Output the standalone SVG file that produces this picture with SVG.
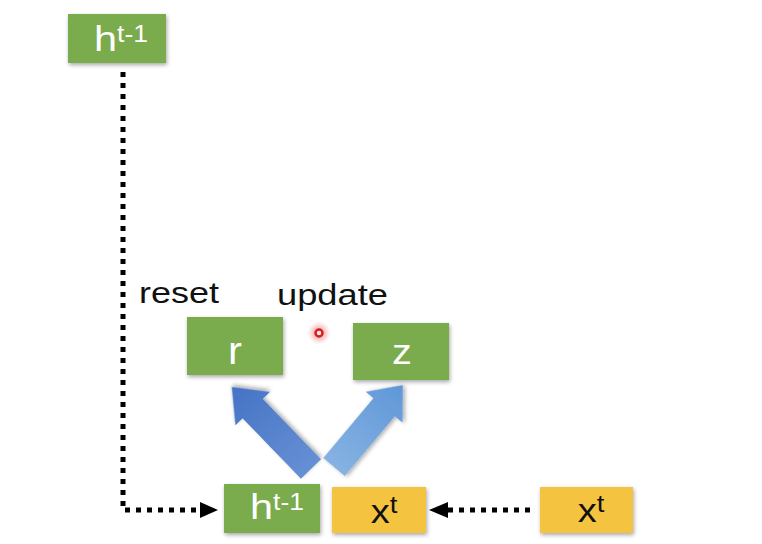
<svg xmlns="http://www.w3.org/2000/svg" width="762" height="544" viewBox="0 0 762 544">
<style>
.g{fill:#7aab4d}
.y{fill:#f4c440}
.wt{fill:#ffffff;font-family:"Liberation Sans",Arial,sans-serif}
.bt{fill:#111111;font-family:"Liberation Sans",Arial,sans-serif}
.dot{fill:none;stroke:#000;stroke-width:5;stroke-dasharray:5 6}
</style>
<defs>
<filter id="sh" x="-20%" y="-20%" width="140%" height="150%">
<feGaussianBlur in="SourceAlpha" stdDeviation="2"/>
<feOffset dx="1" dy="2" result="b"/>
<feComponentTransfer><feFuncA type="linear" slope="0.35"/></feComponentTransfer>
<feMerge><feMergeNode/><feMergeNode in="SourceGraphic"/></feMerge>
</filter>
<linearGradient id="gl" x1="0" y1="0" x2="1" y2="0">
<stop offset="0" stop-color="#6690d4"/><stop offset="1" stop-color="#4672c5"/>
</linearGradient>
<linearGradient id="gr" x1="0" y1="0" x2="1" y2="0">
<stop offset="0" stop-color="#86b2e2"/><stop offset="1" stop-color="#5f97d8"/>
</linearGradient>
<radialGradient id="glow">
<stop offset="0" stop-color="#f07070" stop-opacity="0.9"/><stop offset="0.6" stop-color="#f6a8a8" stop-opacity="0.5"/><stop offset="1" stop-color="#fbd0d0" stop-opacity="0"/>
</radialGradient>
</defs>
<rect width="762" height="544" fill="#ffffff"/>

<g id="connectors">
<polyline class="dot" points="123,72 123,510 200,510"/>
<polygon points="200,502 218,510 200,518" fill="#000"/>
<line class="dot" x1="530" y1="510" x2="448" y2="510"/>
<polygon points="448,502 429,510 448,518" fill="#000"/>
<path transform="translate(311,469) rotate(-134)" d="M0,-14 L84,-14 L84,-24 L114,0 L84,24 L84,14 L0,14 Z" fill="url(#gl)" filter="url(#sh)"/>
<path transform="translate(334,467) rotate(-50)" d="M0,-14 L78,-14 L78,-24 L107,0 L78,24 L78,14 L0,14 Z" fill="url(#gr)" filter="url(#sh)"/>
</g>

<g id="h-top">
<rect class="g" x="68" y="14" width="98" height="49" filter="url(#sh)"/>
<text class="wt" transform="translate(121,51) scale(1.15,1)" text-anchor="middle" font-size="36">h<tspan font-size="23" dy="-9">t-1</tspan></text>
</g>

<g id="label-reset">
<text class="bt" x="139" y="303" font-size="29" textLength="80" lengthAdjust="spacingAndGlyphs">reset</text>
</g>
<g id="label-update">
<text class="bt" x="277" y="305" font-size="29" textLength="111" lengthAdjust="spacingAndGlyphs">update</text>
</g>

<g id="pointer">
<circle cx="319" cy="333" r="12" fill="url(#glow)"/>
<circle cx="319" cy="333" r="3.5" fill="#fde0e0" stroke="#d42020" stroke-width="2.5"/>
</g>

<g id="r">
<rect class="g" x="187" y="317" width="96" height="58" filter="url(#sh)"/>
<text class="wt" transform="translate(235,364) scale(1.1,1)" text-anchor="middle" font-size="38">r</text>
</g>

<g id="z">
<rect class="g" x="353" y="323" width="96" height="57" filter="url(#sh)"/>
<text class="wt" transform="translate(402,364) scale(1.1,1)" text-anchor="middle" font-size="36">z</text>
</g>

<g id="h-bottom">
<rect class="g" x="224" y="484" width="96" height="49" filter="url(#sh)"/>
<text class="wt" transform="translate(277,519) scale(1.15,1)" text-anchor="middle" font-size="36">h<tspan font-size="23" dy="-9">t-1</tspan></text>
</g>

<g id="x-mid">
<rect class="y" x="332" y="487" width="94" height="46" filter="url(#sh)"/>
<text class="bt" transform="translate(384,523) scale(1.15,1)" text-anchor="middle" font-size="33">x<tspan font-size="24" dy="-10">t</tspan></text>
</g>

<g id="x-right">
<rect class="y" x="540" y="487" width="93" height="46" filter="url(#sh)"/>
<text class="bt" transform="translate(591,522) scale(1.15,1)" text-anchor="middle" font-size="33">x<tspan font-size="24" dy="-10">t</tspan></text>
</g>
</svg>
